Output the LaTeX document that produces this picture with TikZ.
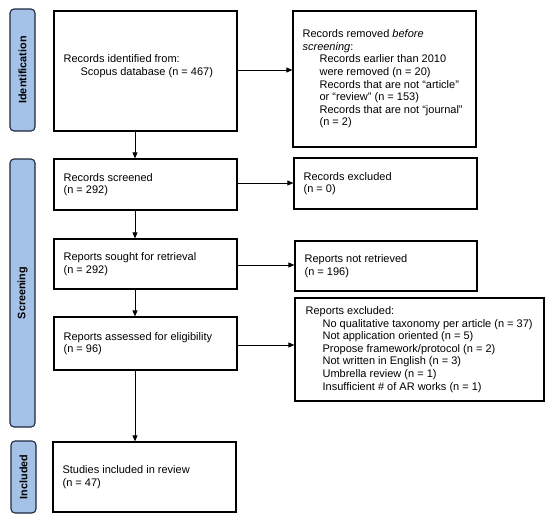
\documentclass[tikz,border=0pt]{standalone}
\usepackage{fontspec}
\setmainfont{Liberation Sans}
\usetikzlibrary{arrows.meta}
\definecolor{phasefill}{RGB}{164,194,232}
\definecolor{phaseline}{RGB}{30,40,60}
\begin{document}
\begin{tikzpicture}[x=1pt,y=-1pt,
  box/.style={draw=black, line width=1.2pt, inner sep=0pt, minimum width=183pt},
  txt/.style={anchor=west, align=left, inner sep=0pt, font=\fontsize{11}{12.6}\selectfont},
  phase/.style={draw=phaseline, fill=phasefill, line width=1.1pt, rounded corners=4pt, inner sep=0pt, minimum width=25pt},
  plab/.style={font=\fontsize{10.8}{12}\selectfont\bfseries, rotate=90, inner sep=0pt},
  arr/.style={-{Triangle[length=6pt,width=5pt]}, line width=0.8pt}]
\useasboundingbox (0,0) rectangle (550,520);

% phase bars
\node[phase, minimum height=122pt] (pid) at (22.5,70) {};
\node[plab] (pidl) at (pid) {Identification};
\node[phase, minimum height=268pt] (pscr) at (22.5,293) {};
\node[plab] (pscrl) at (pscr) {Screening};
\node[phase, minimum height=72pt] (pinc) at (23.5,477) {};
\node[plab] (pincl) at (pinc) {Included};

% boxes
\node[box, minimum height=120pt] (id) at (145.5,71) {};
\node[txt] (idt) at ([xshift=10pt,yshift=5pt]id.west) {Records identified from:\\\hspace*{17pt}Scopus database (n = 467)};

\node[box, minimum height=136pt] (rem) at (384.5,79) {};
\node[txt] (remt) at ([xshift=10pt]rem.west) {Records removed \emph{before}\\\emph{screening}:\\
\hspace*{17pt}Records earlier than 2010\\
\hspace*{17pt}were removed (n = 20)\\
\hspace*{17pt}Records that are not “article”\\
\hspace*{17pt}or “review” (n = 153)\\
\hspace*{17pt}Records that are not “journal”\\
\hspace*{17pt}(n = 2)};

\node[box, minimum height=51pt] (scr) at (145.5,184.5) {};
\node[txt] (scrt) at ([xshift=10pt]scr.west) {Records screened\\(n = 292)};

\node[box, minimum height=51pt] (exc) at (385.5,183.5) {};
\node[txt] (exct) at ([xshift=10pt]exc.west) {Records excluded\\(n = 0)};

\node[box, minimum height=50pt] (sou) at (145.5,264) {};
\node[txt] (sout) at ([xshift=10pt]sou.west) {Reports sought for retrieval\\(n = 292)};

\node[box, minimum width=182pt, minimum height=50pt] (ret) at (386,266) {};
\node[txt] (rett) at ([xshift=10pt]ret.west) {Reports not retrieved\\(n = 196)};

\node[box, minimum height=53pt] (ass) at (145.5,343.5) {};
\node[txt] (asst) at ([xshift=10pt]ass.west) {Reports assessed for eligibility\\(n = 96)};

\node[box, minimum width=249pt, minimum height=103pt] (rex) at (419.5,349.5) {};
\node[txt] (rext) at ([xshift=11pt]rex.west) {Reports excluded:\\
\hspace*{17pt}No qualitative taxonomy per article (n = 37)\\
\hspace*{17pt}Not application oriented (n = 5)\\
\hspace*{17pt}Propose framework/protocol (n = 2)\\
\hspace*{17pt}Not written in English (n = 3)\\
\hspace*{17pt}Umbrella review (n = 1)\\
\hspace*{17pt}Insufficient \# of AR works (n = 1)};

\node[box, minimum height=70pt] (stu) at (144.5,477) {};
\node[txt] (stut) at ([xshift=10pt]stu.west) {Studies included in review\\(n = 47)};

% horizontal arrows
\draw[arr] ([yshift=1pt]id.east) -- ([yshift=1pt]id.east -| rem.west);
\draw[arr] ([yshift=1.5pt]scr.east) -- ([yshift=1.5pt]scr.east -| exc.west);
\draw[arr] ([yshift=-1pt]sou.east) -- ([yshift=-1pt]sou.east -| ret.west);
\draw[arr] ([yshift=-1.5pt]ass.east) -- ([yshift=-1.5pt]ass.east -| rex.west);

% vertical arrows
\draw[arr] ([xshift=-10.5pt]id.south) -- ([xshift=-10.5pt]id.south |- scr.north);
\draw[arr] ([xshift=-10.5pt]scr.south) -- ([xshift=-10.5pt]scr.south |- sou.north);
\draw[arr] ([xshift=-10.5pt]sou.south) -- ([xshift=-10.5pt]sou.south |- ass.north);
\draw[arr] ([xshift=-10.5pt]ass.south) -- ([xshift=-10.5pt]ass.south |- stu.north);
\end{tikzpicture}
\end{document}
